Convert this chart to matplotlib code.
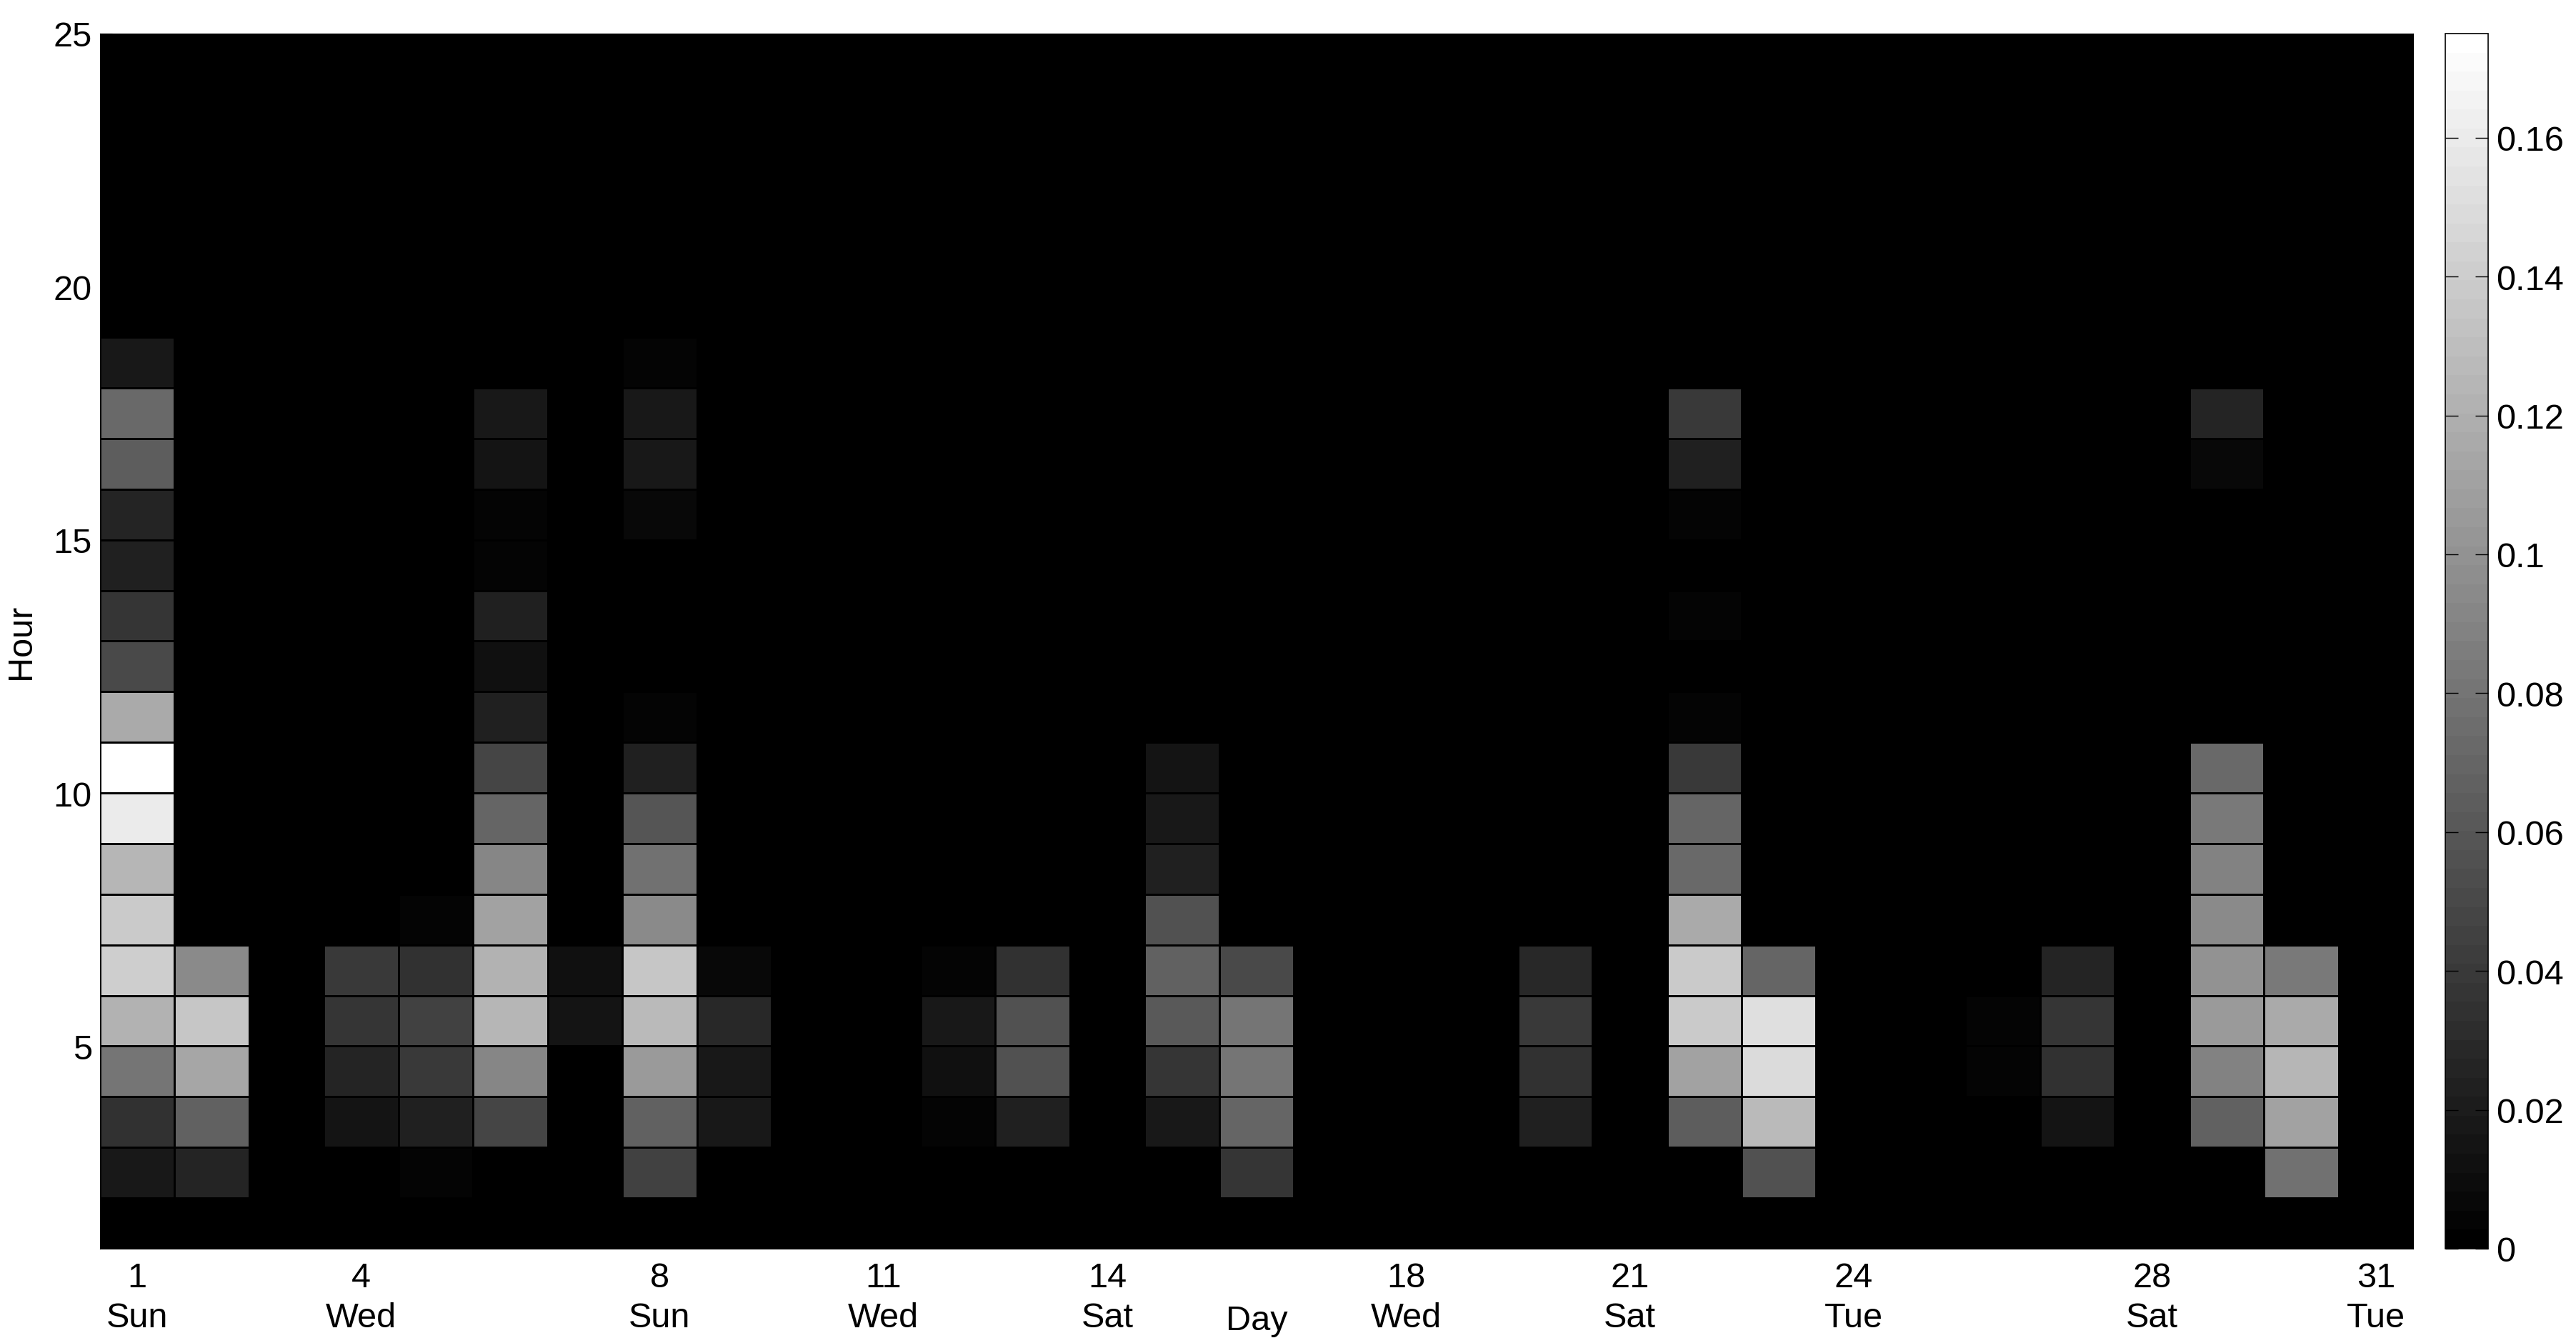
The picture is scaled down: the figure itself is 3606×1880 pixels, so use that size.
import numpy as np
import matplotlib
matplotlib.use("Agg")
import matplotlib.pyplot as plt
from matplotlib.ticker import FuncFormatter

plt.rcParams['font.family'] = ['Liberation Sans', 'DejaVu Sans']

# ---------------- data (values per hour, starting at hour 1) ----------------
n_days = 31
n_hours = 24

day01 = [0, 0.018, 0.035, 0.080, 0.121, 0.140, 0.139, 0.125, 0.161, 0.175, 0.117,
         0.051, 0.038, 0.023, 0.025, 0.064, 0.072, 0.018]
day02 = [0, 0.025, 0.067, 0.113, 0.136, 0.093]
day04 = [0, 0, 0.014, 0.025, 0.036, 0.040]
day05 = [0, 0.005, 0.024, 0.039, 0.045, 0.034, 0.004]
day06 = [0, 0, 0.048, 0.091, 0.124, 0.121, 0.111, 0.091, 0.070, 0.049, 0.023,
         0.012, 0.024, 0.003, 0.004, 0.014, 0.018]
day07 = [0, 0, 0, 0, 0.014, 0.011]
day08 = [0, 0.045, 0.067, 0.106, 0.126, 0.135, 0.094, 0.078, 0.058, 0.023, 0.005,
         0, 0, 0, 0.008, 0.018, 0.018, 0.005]
day09 = [0, 0, 0.018, 0.019, 0.029, 0.007]
day12 = [0, 0, 0.004, 0.013, 0.017, 0.005]
day13 = [0, 0, 0.024, 0.056, 0.056, 0.034]
day15 = [0, 0, 0.017, 0.038, 0.061, 0.068, 0.056, 0.024, 0.017, 0.014]
day16 = [0, 0.038, 0.069, 0.082, 0.082, 0.051]
day20 = [0, 0, 0.023, 0.035, 0.040, 0.028]
day22 = [0, 0, 0.064, 0.111, 0.138, 0.139, 0.117, 0.073, 0.070, 0.041, 0.005,
         0, 0.004, 0, 0.005, 0.023, 0.040]
day23 = [0, 0.055, 0.126, 0.148, 0.151, 0.070]
day26 = [0, 0, 0, 0.005, 0.004]
day27 = [0, 0, 0.014, 0.034, 0.036, 0.025]
day29 = [0, 0, 0.067, 0.089, 0.106, 0.101, 0.094, 0.089, 0.083, 0.073, 0,
         0, 0, 0, 0, 0.007, 0.025]
day30 = [0, 0.077, 0.111, 0.124, 0.115, 0.083]

active_days = {1: day01, 2: day02, 4: day04, 5: day05, 6: day06, 7: day07,
               8: day08, 9: day09, 12: day12, 13: day13, 15: day15, 16: day16,
               20: day20, 22: day22, 23: day23, 26: day26, 27: day27,
               29: day29, 30: day30}

tick_days = [1, 4, 8, 11, 14, 18, 21, 24, 28, 31]
tick_weekdays = ['Sun', 'Wed', 'Sun', 'Wed', 'Sat', 'Wed', 'Sat', 'Tue', 'Sat', 'Tue']
y_ticks = [5, 10, 15, 20, 25]
cbar_ticks = [0, 0.02, 0.04, 0.06, 0.08, 0.10, 0.12, 0.14, 0.16]
vmax = 0.175

# ---------------- build grid ----------------
Z = np.zeros((n_hours, n_days))
for d, vals in active_days.items():
    Z[:len(vals), d - 1] = vals

x_edges = np.arange(1, n_days + 2)
y_edges = np.arange(1, n_hours + 2)

fig = plt.figure(figsize=(36.06, 18.81), dpi=100)
ax = fig.add_axes([0.0388, 0.0702, 0.8980, 0.9043])
cax = fig.add_axes([0.9493, 0.0702, 0.0166, 0.9043])

cmap = plt.get_cmap('gray', 64)
mesh = ax.pcolormesh(x_edges, y_edges, Z, cmap=cmap, vmin=0, vmax=vmax,
                     edgecolors='black', linewidth=0.8)
ax.set_xlim(1, n_days + 1)
ax.set_ylim(1, 25)

FS = 35
ax.set_xticks([d + 0.5 for d in tick_days])
ax.set_xticklabels([f"{d}\n{w}" for d, w in zip(tick_days, tick_weekdays)],
                   fontsize=FS, linespacing=1.3)
ax.set_yticks(y_ticks)
ax.set_yticklabels([str(v) for v in y_ticks], fontsize=FS)
ax.tick_params(axis='x', direction='in', length=12, pad=13, colors='black')
ax.tick_params(axis='y', direction='in', length=12, pad=8, colors='black')
for s in ax.spines.values():
    s.set_color('black')

ax.set_xlabel('Day', fontsize=FS)
ax.xaxis.set_label_coords(0.5, -0.059)
ax.xaxis.label.set_verticalalignment('center')
ax.set_ylabel('Hour', fontsize=FS)
ax.yaxis.set_label_coords(-0.034, 0.5)
ax.yaxis.label.set_verticalalignment('center')

cb = fig.colorbar(mesh, cax=cax)
cb.set_ticks(cbar_ticks)
cb.ax.yaxis.set_major_formatter(FuncFormatter(lambda v, p: f"{v:g}"))
cb.ax.tick_params(direction='in', length=13, width=1, left=True, right=True,
                  labelsize=FS, pad=8)
cb.outline.set_edgecolor('black')
cb.outline.set_linewidth(1.2)

fig.savefig('out.png', dpi=100, facecolor='white')
